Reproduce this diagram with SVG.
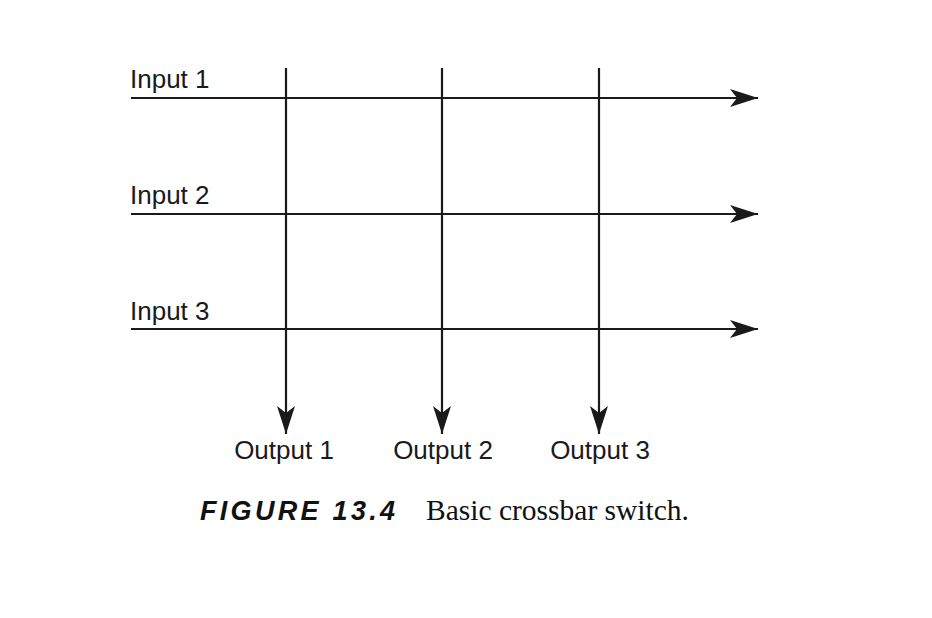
<svg xmlns="http://www.w3.org/2000/svg" width="932" height="618" viewBox="0 0 932 618">
<style>
.ln{stroke:#1a1a1a;stroke-width:2.2;fill:none}
.lb{font-family:"Liberation Sans",Arial,sans-serif;font-size:26px;fill:#1a1a1a}
.fig{font-family:"Liberation Sans",Arial,sans-serif;font-size:27px;font-weight:bold;font-style:italic;fill:#111}
.cap{font-family:"Liberation Serif","Times New Roman",serif;font-size:29.5px;fill:#111}
</style>
<defs>
<marker id="ah" markerWidth="30" markerHeight="20" refX="28" refY="9" orient="auto" markerUnits="userSpaceOnUse">
<path d="M0,0 L28,9 L0,18 L7,9 Z" fill="#1a1a1a"/>
</marker>
</defs>
<rect width="932" height="618" fill="#fff"/>
<g id="connectors">
<line class="ln" x1="131" y1="98" x2="758" y2="98" marker-end="url(#ah)"/>
<line class="ln" x1="131" y1="214" x2="758" y2="214" marker-end="url(#ah)"/>
<line class="ln" x1="131" y1="329" x2="758" y2="329" marker-end="url(#ah)"/>
<line class="ln" x1="286" y1="68" x2="286" y2="434" marker-end="url(#ah)"/>
<line class="ln" x1="442" y1="68" x2="442" y2="434" marker-end="url(#ah)"/>
<line class="ln" x1="599" y1="68" x2="599" y2="434" marker-end="url(#ah)"/>
</g>
<g id="input1"><text class="lb" x="130" y="88">Input 1</text></g>
<g id="input2"><text class="lb" x="130" y="204">Input 2</text></g>
<g id="input3"><text class="lb" x="130" y="320">Input 3</text></g>
<g id="output1"><text class="lb" x="284" y="459" text-anchor="middle">Output 1</text></g>
<g id="output2"><text class="lb" x="443" y="459" text-anchor="middle">Output 2</text></g>
<g id="output3"><text class="lb" x="600" y="459" text-anchor="middle">Output 3</text></g>
<g id="caption">
<text class="fig" x="200" y="520" letter-spacing="3.3">FIGURE 13.4</text>
<text class="cap" x="426" y="520">Basic crossbar switch.</text>
</g>
</svg>
